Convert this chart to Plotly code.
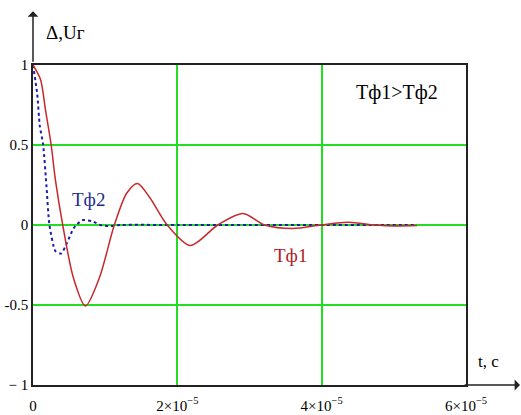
import plotly.graph_objects as go

# Tф1 (red, solid)
t1 = [0, 1.04e-6, 1.73e-6, 2.52e-6, 3.11e-6, 4.12e-6, 5.6e-6, 7.26e-6, 9.2e-6, 1.127e-5,
      1.3e-5, 1.449e-5, 1.62e-5, 1.86e-5, 2.18e-5, 2.56e-5, 2.91e-5, 3.21e-5, 3.60e-5,
      3.99e-5, 4.37e-5, 4.74e-5, 5.01e-5, 5.32e-5]
u1 = [1.0, 0.91, 0.72, 0.5, 0.28, 0.0, -0.33, -0.506, -0.33, 0.0,
      0.2, 0.26, 0.17, 0.0, -0.128, 0.0, 0.072, 0.0, -0.022,
      0.0, 0.017, 0.0, -0.006, -0.003]

# Tф2 (blue, dotted)
t2 = [0, 0.58e-6, 0.94e-6, 1.41e-6, 1.87e-6, 2.28e-6, 3.11e-6, 3.90e-6, 4.73e-6, 5.64e-6,
      6.80e-6, 8.18e-6, 9.33e-6, 1.048e-5, 1.21e-5, 2.0e-5, 3.0e-5, 4.0e-5, 5.32e-5]
u2 = [1.0, 0.82, 0.62, 0.5, 0.24, 0.0, -0.163, -0.178, -0.11, -0.02,
      0.03, 0.024, 0.0, -0.007, 0.0, 0.0, 0.0, 0.0, 0.0]

x_ticks = [0, 2e-5, 4e-5, 6e-5]
x_labels = ["0", "2×10<sup>−5</sup>", "4×10<sup>−5</sup>", "6×10<sup>−5</sup>"]
y_ticks = [-1, -0.5, 0, 0.5, 1]
y_labels = ["− 1", "-0.5", "0", "0.5", "1"]

serif = "Liberation Serif, DejaVu Serif, serif"
green = "#22dd22"

fig = go.Figure()
fig.add_trace(go.Scatter(x=t2, y=u2, mode="lines", hoverinfo="skip",
                         line=dict(color="#1c1ca8", width=2, dash="dot", shape="spline", smoothing=0.6)))
fig.add_trace(go.Scatter(x=t1, y=u1, mode="lines", hoverinfo="skip",
                         line=dict(color="#c8282c", width=1.5, shape="spline", smoothing=0.8)))

fig.update_layout(
    width=521, height=415,
    margin=dict(l=33, r=55, t=65, b=30, autoexpand=False),
    paper_bgcolor="white", plot_bgcolor="white",
    showlegend=False, hovermode=False,
    font=dict(family=serif, color="black", size=15),
    xaxis=dict(range=[0, 6e-5], tickvals=x_ticks, ticktext=x_labels, showgrid=True, automargin=False,
               gridcolor=green, gridwidth=1.5, zeroline=False, showline=True, linecolor="#222",
               linewidth=1.5, mirror=True, ticks="", tickfont=dict(family=serif, size=15),
               ticklabelstandoff=6),
    yaxis=dict(range=[-1, 1], tickvals=y_ticks, ticktext=y_labels, showgrid=True, automargin=False,
               gridcolor=green, gridwidth=1.5, zeroline=False, showline=True, linecolor="#222",
               linewidth=1.5, mirror=True, ticks="", tickfont=dict(family=serif, size=15),
               ticklabelstandoff=0),
)

# axis arrows (Mathcad style)
fig.add_annotation(xref="paper", yref="paper", x=0, y=1.168, ax=0, ay=52, text="",
                   showarrow=True, arrowhead=1, arrowsize=1.2, arrowwidth=1.5, arrowcolor="#222")
fig.add_annotation(xref="paper", yref="paper", x=1.125, y=0, ax=-57, ay=0, text="",
                   showarrow=True, arrowhead=1, arrowsize=1.2, arrowwidth=1.5, arrowcolor="#222")

fig.add_annotation(xref="paper", yref="paper", x=0.076, y=1.1, xanchor="center", yanchor="middle",
                   text="Δ,Uг", showarrow=False, font=dict(family=serif, size=19, color="black"))
fig.add_annotation(xref="paper", yref="paper", x=1.051, y=0.075, xanchor="center", yanchor="middle",
                   text="t, c", showarrow=False, font=dict(family=serif, size=17, color="black"))
fig.add_annotation(x=5.05e-5, y=0.83, text="Tф1>Tф2", showarrow=False,
                   font=dict(family=serif, size=20, color="black"))
fig.add_annotation(x=7.7e-6, y=0.16, text="Tф2", showarrow=False,
                   font=dict(family=serif, size=19, color="#1c2c8c"))
fig.add_annotation(x=3.57e-5, y=-0.19, text="Tф1", showarrow=False,
                   font=dict(family=serif, size=19, color="#b01c1c"))

fig.write_html("out.html", config={"displayModeBar": False},
               post_script="document.body.style.margin='0px';")
